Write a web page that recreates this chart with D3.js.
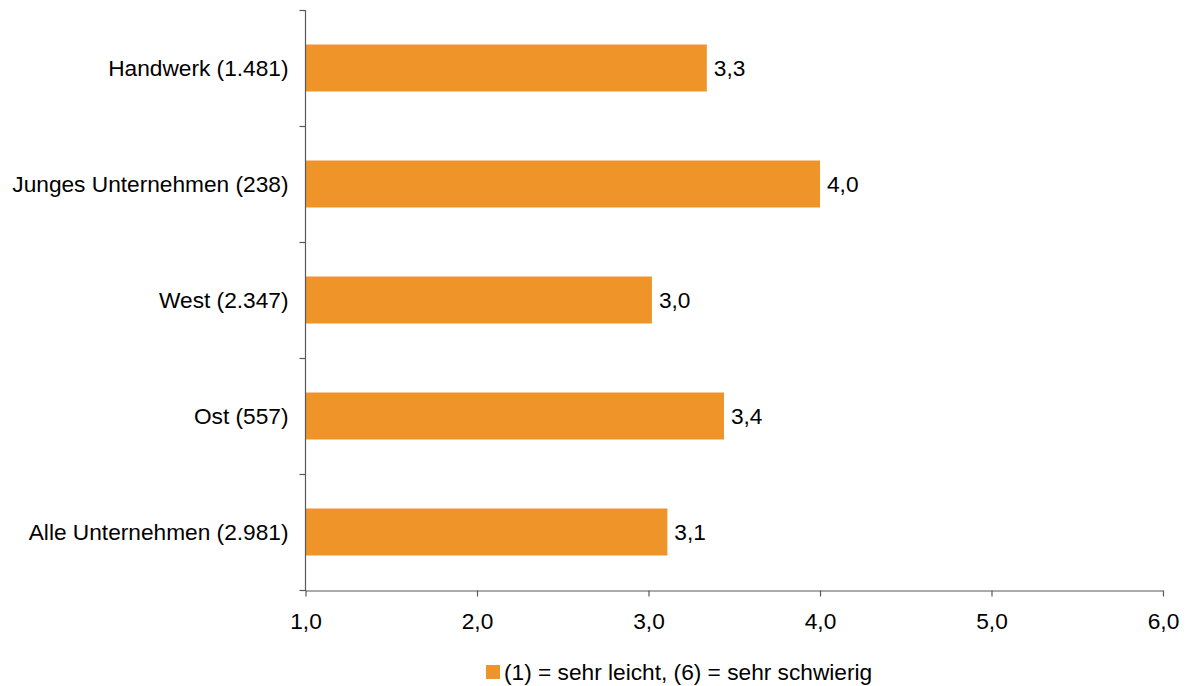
<!DOCTYPE html>
<html>
<head>
<meta charset="utf-8">
<script src="https://cdn.jsdelivr.net/npm/d3@7"></script>
<style>
  html, body { margin: 0; padding: 0; background: #fff; }
  svg { display: block; font-family: "Liberation Sans", Arial, sans-serif; }
</style>
</head>
<body>
<svg id="chart" width="1188" height="686"></svg>
<script>
// Categories (top to bottom) and mean ratings on a 1–6 scale
const categories = [
  "Handwerk (1.481)",
  "Junges Unternehmen (238)",
  "West (2.347)",
  "Ost (557)",
  "Alle Unternehmen (2.981)"
];
const values = [3.34, 4.0, 3.02, 3.44, 3.11];
const xTicks = [1, 2, 3, 4, 5, 6];
const legendLabel = "(1) = sehr leicht, (6) = sehr schwierig";

const barColor = "#EE9428";
const axisColor = "#595959";
const fontSize = 22.7;

const svg = d3.select("#chart");
const deFmt = v => d3.format(".1f")(v).replace(".", ",");

const x = d3.scaleLinear().domain([1, 6]).range([305.5, 1163]);
const y = d3.scaleBand()
  .domain(categories)
  .range([10, 590])
  .paddingInner(0.595)
  .paddingOuter(0.2975);

const data = categories.map((c, i) => ({ cat: c, value: values[i] }));

// Bars
svg.append("g").selectAll("rect")
  .data(data)
  .join("rect")
  .attr("x", x(1))
  .attr("y", d => y(d.cat))
  .attr("width", d => x(d.value) - x(1))
  .attr("height", y.bandwidth())
  .attr("fill", barColor);

// Value labels
svg.append("g").selectAll("text")
  .data(data)
  .join("text")
  .attr("x", d => x(d.value) + 7)
  .attr("y", d => y(d.cat) + y.bandwidth() / 2)
  .attr("dy", "0.35em")
  .attr("font-size", fontSize)
  .attr("fill", "#000")
  .text(d => deFmt(d.value));

// X axis
const xAxis = svg.append("g")
  .attr("transform", `translate(0,${y.range()[1] + 0.5})`)
  .call(d3.axisBottom(x).tickValues(xTicks).tickSize(6).tickSizeOuter(0).tickPadding(16).tickFormat(deFmt));
xAxis.select(".domain").attr("stroke", axisColor).attr("stroke-width", 1.2);
xAxis.selectAll(".tick line").attr("stroke", axisColor).attr("stroke-width", 1.2);
xAxis.selectAll(".tick text")
  .attr("font-size", fontSize)
  .attr("font-family", "Liberation Sans, Arial, sans-serif")
  .attr("fill", "#000");

// Y axis: category labels, ticks between bands
const yAxisG = svg.append("g").attr("transform", `translate(${x(1)},0)`);
yAxisG.append("line")
  .attr("x1", 0).attr("x2", 0)
  .attr("y1", y.range()[0]).attr("y2", y.range()[1] + 1)
  .attr("stroke", axisColor).attr("stroke-width", 1.2);
const step = y.step();
const boundaries = categories.map(c => y(c) - (step - y.bandwidth()) / 2)
  .concat([y(categories[categories.length - 1]) + y.bandwidth() + (step - y.bandwidth()) / 2]);
yAxisG.selectAll(".ytick")
  .data(boundaries)
  .join("line")
  .attr("class", "ytick")
  .attr("x1", -6).attr("x2", 0)
  .attr("y1", d => Math.round(d) + 0.5).attr("y2", d => Math.round(d) + 0.5)
  .attr("stroke", axisColor).attr("stroke-width", 1.2);
yAxisG.selectAll(".ylabel")
  .data(categories)
  .join("text")
  .attr("class", "ylabel")
  .attr("x", -17)
  .attr("y", d => y(d) + y.bandwidth() / 2)
  .attr("dy", "0.35em")
  .attr("text-anchor", "end")
  .attr("font-size", fontSize)
  .attr("fill", "#000")
  .text(d => d);

// Legend
const legend = svg.append("g").attr("transform", "translate(486,665)");
legend.append("rect").attr("width", 14).attr("height", 14).attr("fill", barColor);
legend.append("text")
  .attr("x", 18).attr("y", 7)
  .attr("dy", "0.35em")
  .attr("font-size", fontSize)
  .attr("fill", "#000")
  .text(legendLabel);
</script>
</body>
</html>
